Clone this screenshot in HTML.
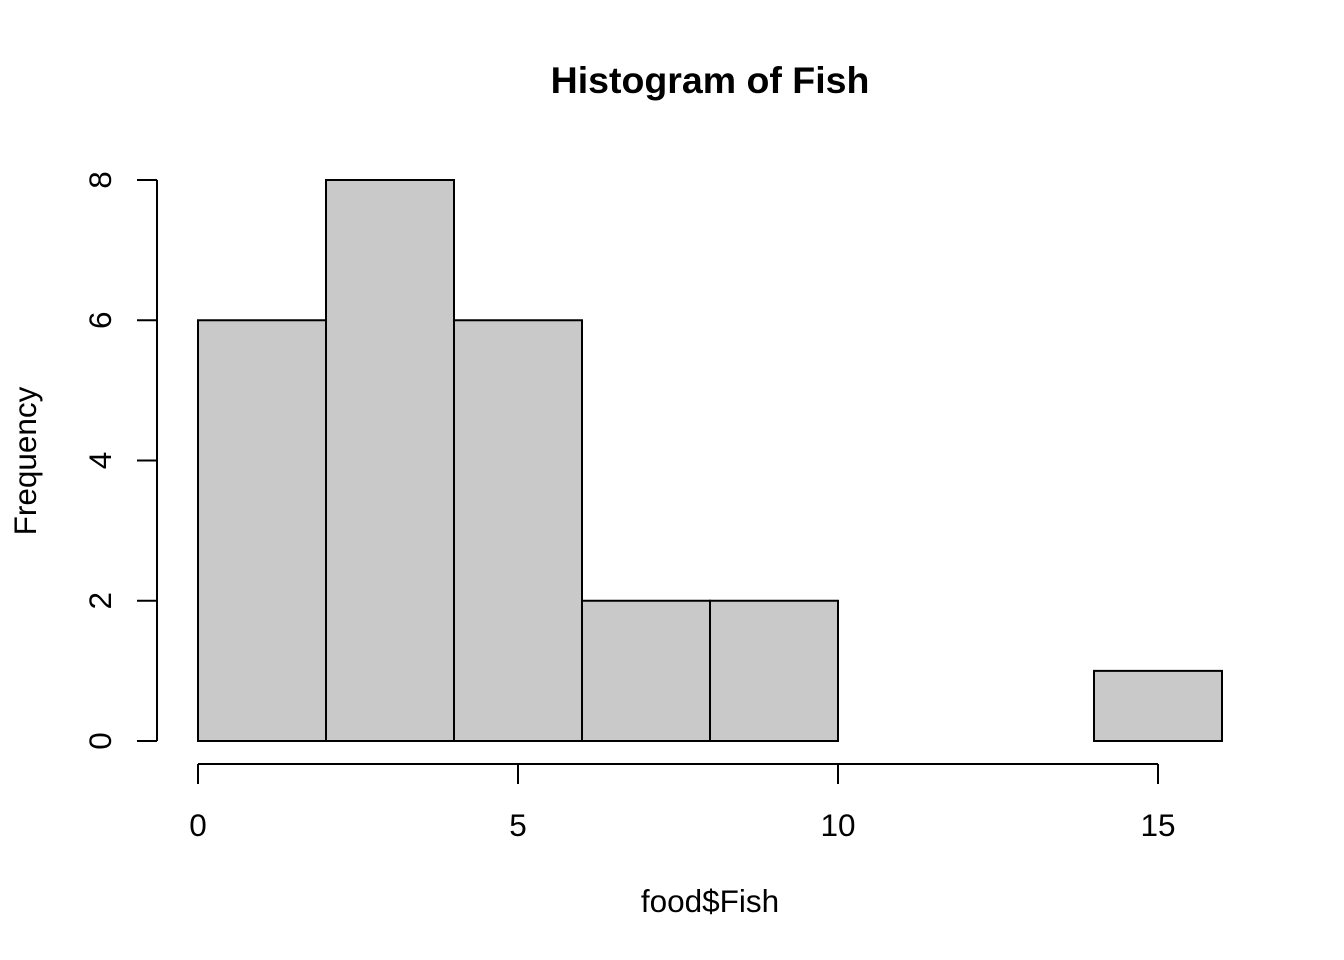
<!DOCTYPE html>
<html><head><meta charset="utf-8"><style>body{margin:0;background:#fff}svg{display:block}text{font-family:"Liberation Sans",Arial,sans-serif;fill:#000}</style></head>
<body>
<svg id="chart" width="1344" height="960" viewBox="0 0 1344 960">
<text x="710" y="93" text-anchor="middle" font-size="37.5" font-weight="bold">Histogram of Fish</text>
<text x="710" y="912" text-anchor="middle" font-size="31.5">food$Fish</text>
<text transform="translate(36,461) rotate(-90)" text-anchor="middle" font-size="31.5">Frequency</text>
<g id="bars"></g><g id="xaxis"></g><g id="yaxis"></g>
</svg>
<script>
const binEdges = [0,2,4,6,8,10,12,14,16];
const counts = [6,8,6,2,2,0,0,1];
const xTicks = [0,5,10,15];
const yTicks = [0,2,4,6,8];
const NS='http://www.w3.org/2000/svg';
function sx(v){return 198+v*64;}
function sy(v){return 741-v*70.125;}
function mk(tag,attrs,parent){const e=document.createElementNS(NS,tag);for(const k in attrs)e.setAttribute(k,attrs[k]);parent.appendChild(e);return e;}
const bars=document.getElementById('bars');
counts.forEach((c,i)=>{
  const x0=sx(binEdges[i]),x1=sx(binEdges[i+1]);
  const r=mk('rect',{x:x0,y:sy(c),width:x1-x0,height:sy(0)-sy(c),fill:'#c9c9c9',stroke:'#000','stroke-width':2},bars);
  
  
});
const xa=document.getElementById('xaxis');
const xl=mk('line',{x1:sx(xTicks[0]),x2:sx(xTicks[xTicks.length-1]),y1:764,y2:764,stroke:'#000','stroke-width':2},xa);


xTicks.forEach(t=>{
  const l=mk('line',{x1:sx(t),x2:sx(t),y1:764,y2:784,stroke:'#000','stroke-width':2},xa);
  
  
  const tx=mk('text',{x:sx(t),y:836,'text-anchor':'middle','font-size':31.5},xa);
  tx.textContent=t;
  
  
});
const ya=document.getElementById('yaxis');
const yl=mk('line',{x1:157,x2:157,y1:sy(yTicks[0]),y2:sy(yTicks[yTicks.length-1]),stroke:'#000','stroke-width':2},ya);


yTicks.forEach(t=>{
  const l=mk('line',{x1:137,x2:157,y1:sy(t),y2:sy(t),stroke:'#000','stroke-width':2},ya);
  
  
  const tx=mk('text',{transform:'translate(111,'+sy(t)+') rotate(-90)','text-anchor':'middle','font-size':31.5},ya);
  tx.textContent=t;
  
  
});
</script>
</body></html>
